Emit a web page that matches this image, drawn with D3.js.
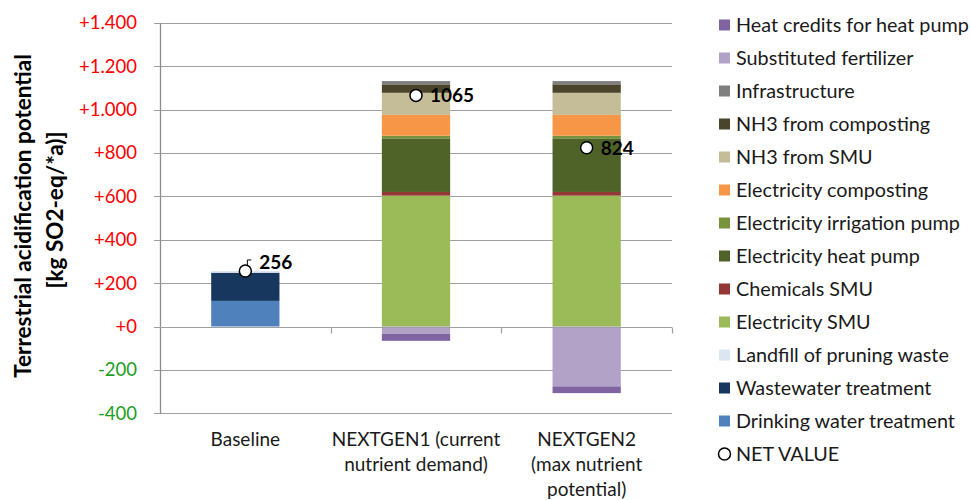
<!DOCTYPE html>
<html>
<head>
<meta charset="utf-8">
<script src="https://cdn.jsdelivr.net/npm/d3@7"></script>
<style>
  body { margin: 0; background: #fff; }
  svg { display: block; font-family: Lato, "Open Sans", sans-serif; }
</style>
</head>
<body>
<svg id="chart" width="970" height="500"></svg>
<script>
// ---------- DATA ----------
const categories = ["Baseline", "NEXTGEN1 (current nutrient demand)", "NEXTGEN2 (max nutrient potential)"];
const categoryLines = [["Baseline"], ["NEXTGEN1 (current", "nutrient demand)"], ["NEXTGEN2", "(max nutrient", "potential)"]];

const drinkingWater   = [118, 0, 0];
const wastewater      = [130, 0, 0];
const landfillPruning = [8, 0, 0];
const electricitySMU  = [0, 603, 603];
const chemicalsSMU    = [0, 17, 17];
const elecHeatPump    = [0, 247, 247];
const elecIrrigation  = [0, 12, 12];
const elecComposting  = [0, 96, 96];
const nh3SMU          = [0, 102, 102];
const nh3Composting   = [0, 39, 39];
const infrastructure  = [0, 15, 15];
const substFertilizer = [0, -34, -276];
const heatCredits     = [0, -32, -31];
const netValue        = [256, 1065, 824];

const yTicks = [-400, -200, 0, 200, 400, 600, 800, 1000, 1200, 1400];

// series in stacking order (bottom -> top), with legend names & colours
const series = [
  { key: "Drinking water treatment",   values: drinkingWater,   color: "#4f81bd" },
  { key: "Wastewater treatment",       values: wastewater,      color: "#17375e" },
  { key: "Landfill of pruning waste",  values: landfillPruning, color: "#dce6f2" },
  { key: "Electricity SMU",            values: electricitySMU,  color: "#9bbb59" },
  { key: "Chemicals SMU",              values: chemicalsSMU,    color: "#953735" },
  { key: "Electricity heat pump",      values: elecHeatPump,    color: "#4f6228" },
  { key: "Electricity irrigation pump",values: elecIrrigation,  color: "#77933c" },
  { key: "Electricity composting",     values: elecComposting,  color: "#f79646" },
  { key: "NH3 from SMU",               values: nh3SMU,          color: "#c4bd97" },
  { key: "NH3 from composting",        values: nh3Composting,   color: "#4a452a" },
  { key: "Infrastructure",             values: infrastructure,  color: "#7f7f7f" },
  { key: "Substituted fertilizer",     values: substFertilizer, color: "#b3a2c7" },
  { key: "Heat credits for heat pump", values: heatCredits,     color: "#8064a2" }
];

// ---------- LAYOUT ----------
const svg = d3.select("#chart");
const plot = { left: 160, right: 672, top: 22.7, bottom: 413.3 };

const x = d3.scaleBand().domain(categories)
  .range([plot.left, plot.right]).paddingInner(0.6).paddingOuter(0.3);
const y = d3.scaleLinear().domain([-400, 1400]).range([plot.bottom, plot.top]);

const table = categories.map((c, i) => {
  const row = { cat: c };
  series.forEach(s => row[s.key] = s.values[i]);
  return row;
});
const stack = d3.stack().keys(series.map(s => s.key)).offset(d3.stackOffsetDiverging);
const stacked = stack(table);

// gridlines
const gridG = svg.append("g");
gridG.selectAll("line").data(yTicks).join("line")
  .attr("x1", plot.left - 6).attr("x2", plot.right)
  .attr("y1", d => Math.round(y(d)) + 0.5).attr("y2", d => Math.round(y(d)) + 0.5)
  .attr("stroke", "#a0a0a0").attr("stroke-width", 1.2);

// y axis
const yAxis = d3.axisLeft(y).tickValues(yTicks).tickSize(0).tickPadding(23)
  .tickFormat(d => (d >= 0 ? "+" : "") + d3.format(",")(d).replace(/,/g, ".").replace("\u2212", "-"));
const yg = svg.append("g").attr("transform", `translate(${plot.left},0)`).call(yAxis);
yg.select(".domain").attr("stroke", "#8c8c8c").attr("stroke-width", 1.3);
yg.selectAll(".tick text")
  .attr("font-family", "Lato, sans-serif").attr("font-size", 18.5)
  .attr("fill", d => d >= 0 ? "#ff0000" : "#1e9e1e");

// bars
const barsG = svg.append("g");
stacked.forEach((layer, li) => {
  barsG.append("g").attr("fill", series[li].color)
    .selectAll("rect").data(layer).join("rect")
    .attr("x", d => x(d.data.cat))
    .attr("width", x.bandwidth())
    .attr("y", d => y(Math.max(d[0], d[1])))
    .attr("height", d => Math.abs(y(d[0]) - y(d[1])));
});

// category axis at zero
const x0 = Math.round(y(0)) + 0.5;
svg.append("line").attr("x1", plot.left).attr("x2", plot.right)
  .attr("y1", x0).attr("y2", x0).attr("stroke", "#a0a0a0").attr("stroke-width", 1.2);
const bounds = categories.map(c => x(c) + x.bandwidth() / 2 + x.step() / 2);
svg.append("g").selectAll("line").data(bounds).join("line")
  .attr("x1", d => Math.round(d) + 0.5).attr("x2", d => Math.round(d) + 0.5)
  .attr("y1", x0).attr("y2", x0 + 6).attr("stroke", "#a0a0a0").attr("stroke-width", 1.2);

// category labels
const catG = svg.append("g").attr("font-size", 19).attr("fill", "#1a1a1a").attr("text-anchor", "middle");
categories.forEach((c, i) => {
  const t = catG.append("text").attr("x", x(c) + x.bandwidth() / 2).attr("y", 446);
  categoryLines[i].forEach((ln, j) => t.append("tspan")
    .attr("x", x(c) + x.bandwidth() / 2).attr("dy", j === 0 ? 0 : 25).text(ln));
});

// net value markers + labels
const labelShift = [{ dx: 14, dy: -9, leader: true }, { dx: 14, dy: 0 }, { dx: 14, dy: 0 }];
const netG = svg.append("g");
categories.forEach((c, i) => {
  const cx = x(c) + x.bandwidth() / 2, cy = y(netValue[i]);
  const s = labelShift[i];
  if (s.leader) {
    netG.append("path")
      .attr("d", `M${cx + 2},${cy - 5} L${cx + 2},${cy - 11} L${cx + 6},${cy - 11}`)
      .attr("fill", "none").attr("stroke", "#000").attr("stroke-width", 1);
  }
  netG.append("circle").attr("cx", cx).attr("cy", cy).attr("r", 6)
    .attr("fill", "#fff").attr("stroke", "#000").attr("stroke-width", 1.5);
  netG.append("text").attr("x", cx + s.dx).attr("y", cy + s.dy).attr("dy", "0.36em")
    .attr("font-weight", "bold").attr("font-size", 19).attr("fill", "#000")
    .text(netValue[i]);
});

// y axis title
const titleG = svg.append("g").attr("transform", "rotate(-90)")
  .attr("font-weight", "bold").attr("font-size", 22.5).attr("fill", "#000").attr("text-anchor", "middle");
titleG.append("text").attr("x", -216).attr("y", 31).text("Terrestrial acidification potential");
titleG.append("text").attr("x", -210).attr("y", 63).text("[kg SO2-eq/*a)]");

// legend
const legendItems = series.slice().reverse();
const legG = svg.append("g").attr("font-size", 19.8).attr("fill", "#1a1a1a");
legendItems.forEach((s, i) => {
  const cy = 25 + 33 * i;
  legG.append("rect").attr("x", 719).attr("y", cy - 5.5).attr("width", 11).attr("height", 11).attr("fill", s.color);
  legG.append("text").attr("x", 736).attr("y", cy).attr("dy", "0.36em").text(s.key);
});
const nCy = 25 + 33 * legendItems.length;
legG.append("circle").attr("cx", 724.5).attr("cy", nCy).attr("r", 6)
  .attr("fill", "#fff").attr("stroke", "#000").attr("stroke-width", 1.5);
legG.append("text").attr("x", 736).attr("y", nCy).attr("dy", "0.36em").text("NET VALUE");
</script>
</body>
</html>
